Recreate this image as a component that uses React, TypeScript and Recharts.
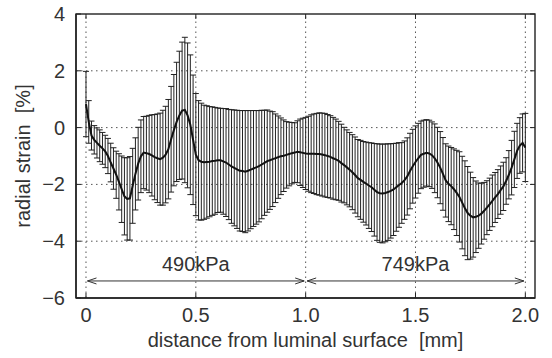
import React from 'react';
import { ComposedChart, Line, ErrorBar, XAxis, YAxis, ReferenceLine } from 'recharts';

// distance from luminal surface [mm]
const distanceMm = [
  0, 0.0125, 0.025, 0.0375, 0.05, 0.0625, 0.075, 0.0875, 0.1, 0.1125,
  0.125, 0.1375, 0.15, 0.1625, 0.175, 0.1875, 0.2, 0.2125, 0.225, 0.2375,
  0.25, 0.2625, 0.275, 0.2875, 0.3, 0.3125, 0.325, 0.3375, 0.35, 0.3625,
  0.375, 0.3875, 0.4, 0.4125, 0.425, 0.4375, 0.45, 0.4625, 0.475, 0.4875,
  0.5, 0.5125, 0.525, 0.5375, 0.55, 0.5625, 0.575, 0.5875, 0.6, 0.6125,
  0.625, 0.6375, 0.65, 0.6625, 0.675, 0.6875, 0.7, 0.7125, 0.725, 0.7375,
  0.75, 0.7625, 0.775, 0.7875, 0.8, 0.8125, 0.825, 0.8375, 0.85, 0.8625,
  0.875, 0.8875, 0.9, 0.9125, 0.925, 0.9375, 0.95, 0.9625, 0.975, 0.9875,
  1, 1.0125, 1.025, 1.0375, 1.05, 1.0625, 1.075, 1.0875, 1.1, 1.1125,
  1.125, 1.1375, 1.15, 1.1625, 1.175, 1.1875, 1.2, 1.2125, 1.225, 1.2375,
  1.25, 1.2625, 1.275, 1.2875, 1.3, 1.3125, 1.325, 1.3375, 1.35, 1.3625,
  1.375, 1.3875, 1.4, 1.4125, 1.425, 1.4375, 1.45, 1.4625, 1.475, 1.4875,
  1.5, 1.5125, 1.525, 1.5375, 1.55, 1.5625, 1.575, 1.5875, 1.6, 1.6125,
  1.625, 1.6375, 1.65, 1.6625, 1.675, 1.6875, 1.7, 1.7125, 1.725, 1.7375,
  1.75, 1.7625, 1.775, 1.7875, 1.8, 1.8125, 1.825, 1.8375, 1.85, 1.8625,
  1.875, 1.8875, 1.9, 1.9125, 1.925, 1.9375, 1.95, 1.9625, 1.975, 1.9875,
  2,
];

// mean radial strain [%]
const meanStrain = [
  0.83, 0.2, -0.28, -0.43, -0.54, -0.64, -0.73, -0.84, -1.0, -1.23,
  -1.44, -1.66, -1.91, -2.17, -2.42, -2.51, -2.49, -2.05, -1.63, -1.27,
  -1.01, -0.88, -0.9, -0.93, -0.98, -1.04, -1.08, -1.11, -1.06, -0.95,
  -0.76, -0.41, -0.09, 0.2, 0.43, 0.6, 0.62, 0.43, 0.1, -0.43,
  -0.95, -1.15, -1.2, -1.22, -1.21, -1.2, -1.18, -1.17, -1.15, -1.15,
  -1.19, -1.23, -1.3, -1.37, -1.42, -1.47, -1.52, -1.53, -1.55, -1.52,
  -1.48, -1.44, -1.4, -1.36, -1.3, -1.24, -1.18, -1.15, -1.11, -1.08,
  -1.04, -1.01, -0.99, -0.96, -0.93, -0.9, -0.88, -0.85, -0.87, -0.89,
  -0.91, -0.92, -0.92, -0.92, -0.93, -0.93, -0.95, -0.97, -1.0, -1.03,
  -1.08, -1.12, -1.17, -1.25, -1.32, -1.4, -1.48, -1.57, -1.67, -1.78,
  -1.84, -1.91, -1.97, -2.04, -2.1, -2.19, -2.27, -2.31, -2.32, -2.3,
  -2.27, -2.23, -2.18, -2.1, -2.02, -1.95, -1.85, -1.72, -1.53, -1.36,
  -1.21, -1.08, -0.96, -0.92, -0.89, -0.91, -0.97, -1.08, -1.23, -1.41,
  -1.63, -1.86, -1.98, -2.06, -2.17, -2.3, -2.44, -2.64, -2.84, -3.01,
  -3.1, -3.16, -3.14, -3.1, -3.03, -2.93, -2.82, -2.7, -2.58, -2.46,
  -2.34, -2.2, -2.07, -1.88, -1.66, -1.41, -1.12, -0.82, -0.63, -0.54,
  -0.7,
];

// standard deviation [%]
const strainSD = [
  1.15, 0.75, 0.51, 0.5, 0.53, 0.56, 0.56, 0.57, 0.62, 0.68,
  0.73, 0.83, 0.99, 1.17, 1.36, 1.45, 1.47, 1.32, 1.27, 1.28,
  1.28, 1.27, 1.3, 1.36, 1.43, 1.5, 1.56, 1.62, 1.67, 1.7,
  1.75, 1.86, 1.96, 2.1, 2.26, 2.41, 2.56, 2.55, 2.46, 2.28,
  2.15, 2.1, 2.06, 2.01, 1.98, 1.94, 1.91, 1.88, 1.84, 1.83,
  1.86, 1.9, 1.94, 2.0, 2.04, 2.08, 2.12, 2.13, 2.15, 2.12,
  2.08, 2.04, 2.0, 1.96, 1.91, 1.85, 1.8, 1.73, 1.67, 1.56,
  1.45, 1.35, 1.26, 1.17, 1.12, 1.08, 1.05, 1.09, 1.17, 1.22,
  1.27, 1.32, 1.37, 1.4, 1.43, 1.45, 1.46, 1.47, 1.46, 1.45,
  1.44, 1.42, 1.39, 1.37, 1.33, 1.32, 1.31, 1.32, 1.34, 1.36,
  1.39, 1.42, 1.46, 1.51, 1.56, 1.63, 1.7, 1.73, 1.74, 1.72,
  1.7, 1.66, 1.62, 1.55, 1.49, 1.42, 1.38, 1.36, 1.33, 1.3,
  1.27, 1.23, 1.19, 1.18, 1.17, 1.17, 1.17, 1.21, 1.24, 1.27,
  1.28, 1.29, 1.33, 1.36, 1.42, 1.5, 1.59, 1.63, 1.67, 1.64,
  1.53, 1.4, 1.26, 1.15, 1.07, 1.0, 0.95, 0.92, 0.91, 0.88,
  0.86, 0.85, 0.85, 0.82, 0.85, 0.96, 0.99, 0.97, 0.98, 1.02,
  1.2,
];

const xTicks = [0, 0.5, 1, 1.5, 2];
const yTicks = [-6, -4, -2, 0, 2, 4];
const xGrid = [0, 0.5, 1, 1.5, 2];
const yGrid = [-4, -2, 0, 2];

const pressureLabels = ['490kPa', '749kPa'];
const pressureStart = [0, 1];
const pressureEnd = [1, 2];
const arrowLevel = -5.4;

const data = distanceMm.map((d, i) => ({ d, mean: meanStrain[i], err: strainSD[i] }));

const FONT = '"Liberation Sans", Arial, sans-serif';
const TEXT = '#333';
const INK = '#222';
const X_DOMAIN: [number, number] = [-0.0455, 2.044];
const Y_DOMAIN: [number, number] = [-6, 4];

// plot-box geometry (layout only)
const PLOT_TOP = 14;
const PLOT_RIGHT = 535;
const X_MARGIN = 10;
const Y_MARGIN = 11;
const TICK_LEN = 5;

const fmtX = (v: number) => (v === 0 ? '0' : v.toFixed(1));
const fmtY = (v: number) => (v < 0 ? '\u2212' + Math.abs(v) : String(v));

function XTick(props: any) {
  const { x, y, payload } = props;
  const axisY = y - X_MARGIN;
  return (
    <g>
      <line x1={x} y1={axisY} x2={x} y2={axisY - TICK_LEN} stroke={INK} strokeWidth={1} />
      <line x1={x} y1={PLOT_TOP} x2={x} y2={PLOT_TOP + TICK_LEN} stroke={INK} strokeWidth={1} />
      <text x={x} y={y + 14} textAnchor="middle" fontSize={20} fontFamily={FONT} fill={TEXT}>
        {fmtX(payload.value)}
      </text>
    </g>
  );
}

function YTick(props: any) {
  const { x, y, payload } = props;
  const axisX = x + Y_MARGIN;
  return (
    <g>
      <line x1={axisX} y1={y} x2={axisX + TICK_LEN} y2={y} stroke={INK} strokeWidth={1} />
      <line x1={PLOT_RIGHT} y1={y} x2={PLOT_RIGHT - TICK_LEN} y2={y} stroke={INK} strokeWidth={1} />
      <text x={x} y={y + 7} textAnchor="end" fontSize={20} fontFamily={FONT} fill={TEXT}>
        {fmtY(payload.value)}
      </text>
    </g>
  );
}

function FrameShape(props: any) {
  const { x1, y1, x2, y2 } = props;
  return (
    <rect
      x={Math.min(x1, x2)}
      y={Math.min(y1, y2)}
      width={Math.abs(x2 - x1)}
      height={Math.abs(y2 - y1)}
      fill="none"
      stroke={INK}
      strokeWidth={1.4}
    />
  );
}

function ArrowShape(props: any) {
  const { x1, y1, x2, text } = props;
  const a = x1 + 1.5;
  const b = x2 - 1.5;
  const y = y1;
  const mid = (x1 + x2) / 2;
  return (
    <g>
      <line x1={a} y1={y} x2={b} y2={y} stroke="#333" strokeWidth={1} />
      <polyline points={`${a + 9},${y - 3} ${a},${y} ${a + 9},${y + 3}`} fill="none" stroke="#333" strokeWidth={1} />
      <polyline points={`${b - 9},${y - 3} ${b},${y} ${b - 9},${y + 3}`} fill="none" stroke="#333" strokeWidth={1} />
      <text x={mid} y={y - 10} textAnchor="middle" fontSize={20} fontFamily={FONT} fill={TEXT}>
        {text}
      </text>
    </g>
  );
}

function YLabel(props: any) {
  const vb = props.viewBox || {};
  const cx = 30;
  const cy = vb.height ? vb.y + vb.height / 2 : 157;
  return (
    <text
      x={cx}
      y={cy}
      transform={`rotate(-90, ${cx}, ${cy})`}
      textAnchor="middle"
      fontSize={20}
      fontFamily={FONT}
      fill={TEXT}
      style={{ whiteSpace: 'pre' }}
    >
      {'radial strain  [%]'}
    </text>
  );
}

const gridProps = { stroke: '#555', strokeDasharray: '1.5 3.5', strokeWidth: 1 };

export default function App() {
  return (
    <div style={{ position: 'absolute', left: 0, top: 0, width: 552, height: 358, background: '#fff' }}>
      <ComposedChart width={552} height={358} data={data} margin={{ top: 14, right: 17, bottom: 0, left: 0 }}>
        {xGrid.map((v) => (
          <ReferenceLine key={'gx' + v} x={v} {...gridProps} />
        ))}
        {yGrid.map((v) => (
          <ReferenceLine key={'gy' + v} y={v} {...gridProps} />
        ))}
        <XAxis
          dataKey="d"
          type="number"
          domain={X_DOMAIN}
          ticks={xTicks}
          allowDataOverflow
          height={60}
          axisLine={{ stroke: INK, strokeWidth: 1.4 }}
          tickLine={false}
          tickSize={0}
          tickMargin={X_MARGIN}
          tick={<XTick />}
          label={{
            value: 'distance from luminal surface\u00A0 [mm]',
            position: 'insideBottom',
            offset: 11,
            fill: TEXT,
            fontSize: 20,
            fontFamily: FONT,
          }}
        />
        <YAxis
          type="number"
          domain={Y_DOMAIN}
          ticks={yTicks}
          allowDataOverflow
          width={76}
          axisLine={{ stroke: INK, strokeWidth: 1.4 }}
          tickLine={false}
          tickSize={0}
          tickMargin={Y_MARGIN}
          tick={<YTick />}
          label={<YLabel />}
        />
        <ReferenceLine
          segment={[
            { x: X_DOMAIN[0], y: Y_DOMAIN[1] },
            { x: X_DOMAIN[1], y: Y_DOMAIN[0] },
          ]}
          ifOverflow="visible"
          shape={(p: any) => <FrameShape {...p} />}
        />
        <Line
          dataKey="mean"
          stroke="#111"
          strokeWidth={2}
          dot={false}
          activeDot={false}
          isAnimationActive={false}
        >
          <ErrorBar dataKey="err" direction="y" width={3} stroke="#222" strokeWidth={1} isAnimationActive={false} />
        </Line>
        {pressureLabels.map((lab, i) => (
          <ReferenceLine
            key={lab}
            segment={[
              { x: pressureStart[i], y: arrowLevel },
              { x: pressureEnd[i], y: arrowLevel },
            ]}
            ifOverflow="visible"
            shape={(p: any) => <ArrowShape {...p} text={lab} />}
          />
        ))}
      </ComposedChart>
    </div>
  );
}
